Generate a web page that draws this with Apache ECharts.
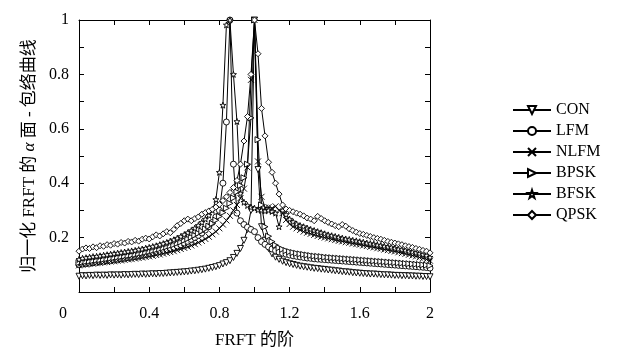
<!DOCTYPE html>
<html><head><meta charset="utf-8">
<script src="https://cdn.jsdelivr.net/npm/echarts@6/dist/echarts.min.js"></script>
<style>html,body{margin:0;padding:0;background:#fff}#c{width:625px;height:354px}</style>
</head><body><div id="c"></div>
<script>
const orders = [0,0.02,0.04,0.06,0.08,0.1,0.12,0.14,0.16,0.18,0.2,0.22,0.24,0.26,0.28,0.3,0.32,0.34,0.36,0.38,0.4,0.42,0.44,0.46,0.48,0.5,0.52,0.54,0.56,0.58,0.6,0.62,0.64,0.66,0.68,0.7,0.72,0.74,0.76,0.78,0.8,0.82,0.84,0.86,0.88,0.9,0.92,0.94,0.96,0.98,1,1.02,1.04,1.06,1.08,1.1,1.12,1.14,1.16,1.18,1.2,1.22,1.24,1.26,1.28,1.3,1.32,1.34,1.36,1.38,1.4,1.42,1.44,1.46,1.48,1.5,1.52,1.54,1.56,1.58,1.6,1.62,1.64,1.66,1.68,1.7,1.72,1.74,1.76,1.78,1.8,1.82,1.84,1.86,1.88,1.9,1.92,1.94,1.96,1.98,2];

const CON = [0.058,0.060,0.059,0.061,0.060,0.062,0.061,0.062,0.061,0.063,0.062,
0.063,0.062,0.064,0.063,0.064,0.065,0.064,0.066,0.065,0.066,
0.067,0.066,0.068,0.068,0.069,0.070,0.071,0.072,0.073,0.074,
0.075,0.077,0.078,0.080,0.082,0.084,0.087,0.090,0.093,0.097,
0.103,0.108,0.115,0.127,0.142,0.160,0.190,0.230,0.300,
1.000,
0.450,0.240,0.190,0.160,0.140,0.128,0.120,0.113,0.108,0.104,
0.101,0.098,0.095,0.093,0.091,0.089,0.087,0.086,0.084,0.083,
0.081,0.080,0.078,0.077,0.075,0.074,0.073,0.071,0.070,0.069,
0.068,0.067,0.066,0.066,0.065,0.064,0.063,0.063,0.062,0.061,
0.061,0.060,0.060,0.059,0.059,0.058,0.058,0.057,0.057,0.056];

const LFM = [0.100,0.103,0.105,0.106,0.108,0.110,0.111,0.113,0.115,0.116,0.118,
0.120,0.122,0.124,0.126,0.128,0.130,0.132,0.135,0.137,0.140,
0.143,0.146,0.149,0.152,0.156,0.160,0.164,0.169,0.174,0.180,
0.186,0.193,0.200,0.208,0.217,0.228,0.240,0.256,0.276,0.300,
0.400,0.625,1.000,0.470,0.290,0.262,0.248,0.238,0.230,
0.222,
0.200,0.185,0.175,0.166,0.158,0.152,0.147,0.143,0.139,0.136,
0.133,0.131,0.129,0.127,0.125,0.124,0.122,0.121,0.120,0.119,
0.118,0.117,0.116,0.115,0.114,0.113,0.112,0.111,0.110,0.109,
0.108,0.107,0.106,0.105,0.104,0.103,0.102,0.101,0.100,0.099,
0.098,0.097,0.096,0.095,0.094,0.093,0.092,0.091,0.090,0.088];

const NLFM = [0.098,0.100,0.101,0.103,0.104,0.106,0.107,0.109,0.110,0.112,0.113,
0.115,0.116,0.118,0.120,0.121,0.123,0.125,0.127,0.129,0.131,
0.133,0.136,0.138,0.141,0.144,0.147,0.150,0.154,0.158,0.162,
0.166,0.171,0.176,0.182,0.188,0.195,0.203,0.212,0.222,0.234,
0.248,0.263,0.280,0.300,0.320,0.345,0.380,0.458,0.780,
1.000,
0.480,0.350,0.310,0.312,0.308,0.315,0.300,0.290,0.265,0.250,
0.240,0.234,0.228,0.222,0.218,0.214,0.210,0.206,0.203,0.200,
0.197,0.194,0.191,0.188,0.186,0.183,0.181,0.178,0.176,0.174,
0.171,0.169,0.166,0.164,0.161,0.159,0.156,0.154,0.151,0.149,
0.146,0.143,0.140,0.137,0.134,0.131,0.127,0.124,0.120,0.115];

const BPSK = [0.108,0.110,0.112,0.113,0.115,0.117,0.118,0.120,0.122,0.124,0.126,
0.128,0.130,0.132,0.134,0.136,0.138,0.141,0.143,0.146,0.149,
0.152,0.155,0.158,0.162,0.166,0.170,0.174,0.179,0.184,0.190,
0.196,0.202,0.209,0.216,0.224,0.232,0.242,0.252,0.264,0.278,
0.292,0.308,0.326,0.346,0.368,0.392,0.420,0.470,0.640,
1.000,
0.560,0.320,0.240,0.205,0.185,0.172,0.163,0.157,0.152,0.148,
0.145,0.142,0.140,0.138,0.136,0.134,0.132,0.131,0.130,0.128,
0.127,0.126,0.125,0.124,0.123,0.122,0.121,0.120,0.119,0.118,
0.117,0.116,0.115,0.114,0.113,0.112,0.111,0.110,0.109,0.108,
0.107,0.106,0.105,0.104,0.103,0.102,0.101,0.100,0.099,0.097];

const BFSK = [0.120,0.124,0.126,0.128,0.130,0.131,0.133,0.135,0.137,0.139,0.141,
0.143,0.145,0.147,0.149,0.151,0.153,0.156,0.158,0.161,0.164,
0.167,0.170,0.174,0.178,0.182,0.187,0.192,0.198,0.204,0.211,
0.218,0.226,0.235,0.245,0.256,0.268,0.282,0.300,0.340,0.440,
0.687,0.982,1.000,0.800,0.627,0.362,0.330,0.318,0.312,
0.308,
0.302,0.300,0.298,0.300,0.296,0.290,0.240,0.300,0.285,0.268,
0.258,0.250,0.244,0.240,0.235,0.230,0.226,0.222,0.218,0.214,
0.210,0.207,0.204,0.201,0.198,0.195,0.193,0.190,0.188,0.185,
0.183,0.180,0.178,0.176,0.173,0.171,0.168,0.166,0.164,0.161,
0.158,0.156,0.153,0.150,0.147,0.144,0.141,0.138,0.134,0.128];

const QPSK = [0.150,0.158,0.162,0.160,0.166,0.163,0.170,0.168,0.174,0.172,0.178,
0.176,0.182,0.180,0.186,0.184,0.190,0.187,0.194,0.198,0.195,
0.203,0.210,0.206,0.214,0.222,0.218,0.230,0.244,0.252,0.262,
0.268,0.262,0.270,0.276,0.286,0.292,0.298,0.304,0.312,0.322,
0.336,0.350,0.366,0.384,0.410,0.470,0.555,0.645,0.800,
1.000,
0.876,0.675,0.574,0.477,0.440,0.400,0.360,0.320,0.305,0.300,
0.295,0.290,0.286,0.280,0.272,0.268,0.262,0.278,0.270,0.262,
0.256,0.250,0.244,0.240,0.248,0.242,0.232,0.226,0.220,0.215,
0.212,0.208,0.204,0.200,0.197,0.194,0.190,0.186,0.183,0.180,
0.177,0.174,0.170,0.167,0.164,0.160,0.157,0.153,0.150,0.144];

const seriesNames = ['CON','LFM','NLFM','BPSK','BFSK','QPSK'];
const seriesValues = [CON, LFM, NLFM, BPSK, BFSK, QPSK];
const xTickLabels = ['0','0.4','0.8','1.2','1.6','2'];
const yTickLabels = ['0.2','0.4','0.6','0.8','1'];

const symbols = [
  {s:'triangle', r:180},
  {s:'circle', r:0},
  {s:'path://M0,0L10,10M10,0L0,10', r:0},
  {s:'triangle', r:-90},
  {s:'path://M5,0L6.2,3.6L10,3.6L7,5.9L8.1,9.5L5,7.3L1.9,9.5L3,5.9L0,3.6L3.8,3.6Z', r:0},
  {s:'diamond', r:0}
];

const FONT = '"Liberation Serif","Noto Sans CJK SC",serif';

function fmtX(v){
  const k = Math.round(v*10);
  const s = String(k/10);
  if (k === 0) return '{z|0}';
  return xTickLabels.indexOf(s) >= 0 ? s : '';
}
function fmtY(v){
  const s = String(Math.round(v*10)/10);
  return yTickLabels.indexOf(s) >= 0 ? s : '';
}

const chart = echarts.init(document.getElementById('c'), null, {renderer:'canvas'});
function common(){
  return {
    axisLine:{show:true, onZero:false, lineStyle:{color:'#000', width:1}},
    axisTick:{show:true, inside:true, length:5, lineStyle:{color:'#000'}},
    splitLine:{show:false}
  };
}
chart.setOption({
  animation:false,
  backgroundColor:'#fff',
  grid:{left:79, right:195, top:20, bottom:57},
  legend:{
    data: seriesNames, orient:'vertical', left:507, top:97,
    itemWidth:38, itemHeight:10, itemGap:5,
    textStyle:{fontFamily:FONT, fontSize:16, color:'#000'}
  },
  xAxis:[
    Object.assign({type:'value', min:0, max:2, interval:0.2, position:'bottom',
      name:'FRFT 的阶', nameLocation:'middle', nameGap:40,
      nameTextStyle:{fontFamily:FONT, fontSize:17, color:'#000'},
      axisLabel:{formatter:fmtX, margin:14, fontFamily:FONT, fontSize:16, color:'#000',
        rich:{z:{padding:[0,32,0,0], fontFamily:FONT, fontSize:16, color:'#000'}}}
    }, common()),
    Object.assign({type:'value', min:0, max:2, interval:0.2, position:'top', axisLabel:{show:false}}, common())
  ],
  yAxis:[
    Object.assign({type:'value', min:0, max:1, interval:0.1, position:'left',
      name:'归一化 FRFT 的 {a|α} 面 - 包络曲线', nameLocation:'middle', nameGap:40, nameRotate:90,
      nameTextStyle:{fontFamily:FONT, fontSize:17, color:'#000',
        rich:{a:{fontFamily:FONT, fontStyle:'italic', fontSize:17, color:'#000'}}},
      axisLabel:{formatter:fmtY, margin:10, fontFamily:FONT, fontSize:16, color:'#000'}
    }, common()),
    Object.assign({type:'value', min:0, max:1, interval:0.1, position:'right', axisLabel:{show:false}}, common())
  ],
  series: seriesNames.map((n,k)=>({
    name:n, type:'line', xAxisIndex:0, yAxisIndex:0,
    data: orders.map((x,i)=>[x, seriesValues[k][i]]),
    symbol: symbols[k].s, symbolRotate: symbols[k].r, symbolSize:6,
    showAllSymbol:true, clip:false,
    lineStyle:{color:'#000', width:1},
    itemStyle:{color:'#fff', borderColor:'#000', borderWidth:0.9}
  }))
});
</script></body></html>
